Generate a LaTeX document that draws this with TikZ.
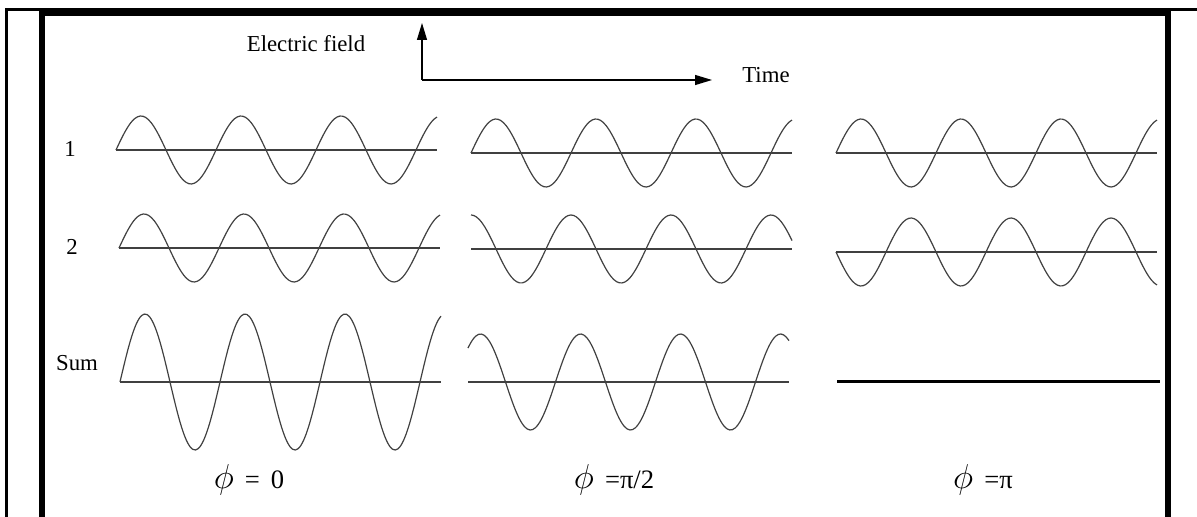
\documentclass[tikz,border=0pt]{standalone}
\usepackage{fontspec}
\setmainfont{Liberation Serif}
\usetikzlibrary{arrows.meta}

\begin{document}
\begin{tikzpicture}[
        x=0.5pt, y=-0.5pt,
        frame/.style={line width=3.2pt},
        topframe/.style={line width=4pt},
        thinframe/.style={line width=1.4pt},
        axisline/.style={black!75, line width=0.6pt},
        wave/.style={black!75, line width=0.6pt, smooth},
        arrow/.style={-{Triangle[length=8.5pt, width=5pt]}, line width=0.6pt},
        rowlabel/.style={anchor=base, inner sep=0pt, font=\fontsize{11.4}{13}\selectfont},
        phaselabel/.style={anchor=base, inner sep=0pt, font=\fontsize{13.3}{15}\selectfont},
    ]
        \newcommand{\phisym}{{\fontsize{16}{18}\selectfont$\phi$}}
        \useasboundingbox (0,0) rectangle (1197,517);

        % Frame
        \draw[thinframe] (6.5,517) -- (6.5,9.5) -- (42,9.5);
        \draw[thinframe] (1168,9.5) -- (1197,9.5);
        \draw[frame] (42,517) -- (42,12);
        \draw[frame] (1168,12) -- (1168,517);
        \draw[topframe] (38.8,12) -- (1171.2,12);

        % Field / time axes
        \coordinate (origin) at (422,80);
        \coordinate (fieldtip) at (422,23);
        \coordinate (timetip) at (712,80);
        \draw[arrow] (origin) -- (fieldtip);
        \draw[arrow] (origin) -- (timetip);
        \node[rowlabel] (field) at (306,52) {Electric field};
        \node[rowlabel] (time) at (766,83) {Time};

        % Row labels
        \node[rowlabel] (one) at (70,157) {1};
        \node[rowlabel] (two) at (72,255) {2};
        \node[rowlabel] (sum) at (77,371) {Sum};

        % Waves: start x / axis y / amplitude / phase
        \foreach \px/\py/\amp/\ph in {116/150/34/0, 119/248/34/0, 120/382/68/0,
                                      471/153/34/0, 471/249/34/90, 468/382/48/45,
                                      836/153/34/0, 836/252/34/180}
        {
            \draw[axisline] (\px,\py) -- ++(321,0);
            \draw[wave] plot[domain=0:321, samples=120] ({\px+\x}, {\py-\amp*sin(3.6*\x+\ph)});
        }

        % Cancelled sum
        \draw[line width=1.5pt] (837,382) -- (1160,382);

        % Phase labels
        \node[phaselabel] (ph0) at (249,488) {\phisym\ \,= \,0};
        \node[phaselabel] (ph1) at (614,488) {\phisym\ \,=π/2};
        \node[phaselabel] (ph2) at (983,488) {\phisym\ \,=π};
    \end{tikzpicture}
\end{document}
